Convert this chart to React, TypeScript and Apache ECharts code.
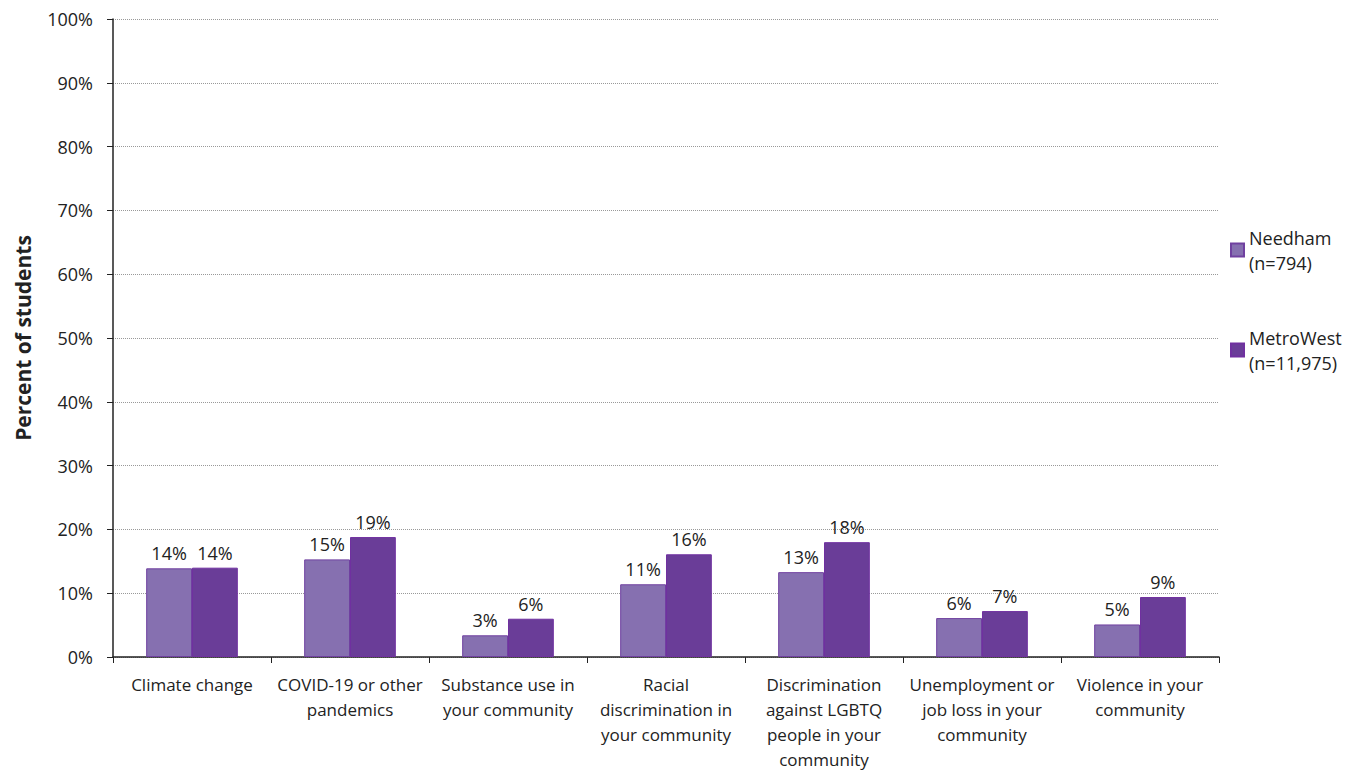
import React, { useEffect, useRef } from "react";
import * as echarts from "echarts";

const categories = [
  "Climate change",
  "COVID-19 or other\npandemics",
  "Substance use in\nyour community",
  "Racial\ndiscrimination in\nyour community",
  "Discrimination\nagainst LGBTQ\npeople in your\ncommunity",
  "Unemployment or\njob loss in your\ncommunity",
  "Violence in your\ncommunity",
];
const needham = [13.9, 15.3, 3.4, 11.4, 13.3, 6.1, 5.1];
const metroWest = [14.0, 18.8, 6.0, 16.1, 18.0, 7.2, 9.4];
const seriesNames = ["Needham\n(n=794)", "MetroWest\n(n=11,975)"];
const yTicks = [0, 10, 20, 30, 40, 50, 60, 70, 80, 90, 100];

const FONT = "'Open Sans', 'Noto Sans', sans-serif";

export default function App() {
  const ref = useRef<HTMLDivElement>(null);
  useEffect(() => {
    if (!ref.current) return;
    const chart = echarts.init(ref.current, null, { renderer: "svg" });
    const label = {
      show: true,
      position: "top" as const,
      distance: 6,
      fontFamily: FONT,
      fontSize: 18,
      color: "#222",
      formatter: (p: any) => Math.round(p.value) + "%",
    };
    chart.setOption({
      animation: false,
      backgroundColor: "#fff",
      textStyle: { fontFamily: FONT },
      grid: {
        left: 113,
        right: 149,
        top: 19,
        bottom: 113,
        containLabel: false,
        outerBoundsMode: "none",
      },
      legend: {
        orient: "vertical",
        left: 1225,
        top: 220,
        itemWidth: 13,
        itemHeight: 13,
        itemGap: 50,
        icon: "rect",
        textStyle: { fontFamily: FONT, fontSize: 18, color: "#222", lineHeight: 25 },
        data: seriesNames,
      },
      xAxis: {
        type: "category",
        data: categories,
        axisLine: { lineStyle: { color: "#222", width: 1.5 } },
        axisTick: { show: true, length: 6, lineStyle: { color: "#222" } },
        axisLabel: {
          interval: 0,
          fontFamily: FONT,
          fontSize: 17,
          color: "#222",
          lineHeight: 25,
          margin: 15,
        },
      },
      yAxis: {
        type: "value",
        min: 0,
        max: 100,
        interval: 10,
        name: "Percent of students",
        nameLocation: "middle",
        nameRotate: 90,
        nameGap: 80,
        nameTextStyle: { fontFamily: FONT, fontSize: 21, fontWeight: "bold", color: "#222" },
        axisLine: { show: true, lineStyle: { color: "#222", width: 1.5 } },
        axisTick: { show: true, length: 6, lineStyle: { color: "#222" } },
        splitLine: { lineStyle: { color: "#999", type: "dotted", width: 1 } },
        axisLabel: {
          fontFamily: FONT,
          fontSize: 18,
          color: "#222",
          margin: 20,
          formatter: (v: number) => (yTicks.includes(v) ? v + "%" : ""),
        },
      },
      series: [
        {
          name: seriesNames[0],
          type: "bar",
          data: needham,
          barGap: "0%",
          barCategoryGap: "42%",
          itemStyle: { color: "#8670B0", borderColor: "#7040A0", borderWidth: 1 },
          label,
        },
        {
          name: seriesNames[1],
          type: "bar",
          data: metroWest,
          barGap: "0%",
          barCategoryGap: "42%",
          itemStyle: { color: "#6A3D98", borderColor: "#7030A0", borderWidth: 1 },
          label,
        },
      ],
    });
    return () => chart.dispose();
  }, []);
  return (
    <div
      ref={ref}
      style={{ position: "absolute", left: 0, top: 0, width: 1368, height: 770 }}
    />
  );
}
